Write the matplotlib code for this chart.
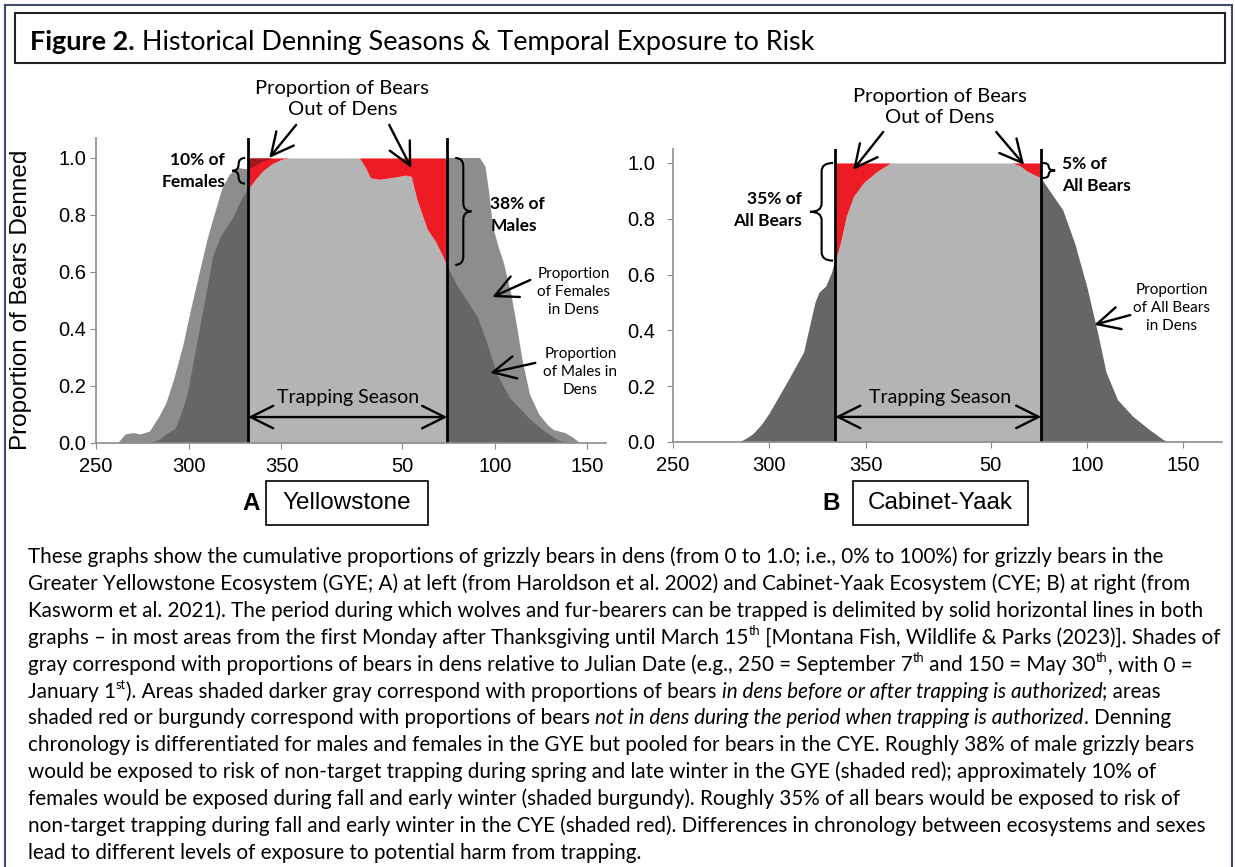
import matplotlib
matplotlib.use('Agg')
import matplotlib.pyplot as plt
import numpy as np
from matplotlib.patches import Rectangle, PathPatch
from matplotlib.path import Path
from matplotlib.font_manager import FontProperties

# ---- data (Julian day, continuous past 365; proportion denned) ----
gye_fem_day = [262, 266, 270, 274, 279, 284, 288, 292, 297, 301, 306, 310, 313, 318, 322, 326, 332,
               336, 340, 345, 439.4, 457, 460, 462, 464, 467, 470, 474, 477, 480, 484, 489, 494, 497,
               500, 503, 507, 511]
gye_fem_val = [0.0, 0.03, 0.035, 0.03, 0.04, 0.09, 0.14, 0.22, 0.34, 0.46, 0.60, 0.71, 0.78, 0.89,
               0.94, 0.965, 0.96, 0.975, 0.99, 1.0, 1.0, 1.0, 0.97, 0.88, 0.76, 0.69, 0.63, 0.52, 0.41,
               0.29, 0.17, 0.10, 0.06, 0.045, 0.04, 0.035, 0.02, 0.0]

gye_male_day = [279, 284, 288, 293, 296, 299, 302, 306, 310, 313, 317, 321, 324, 329, 332, 336, 340,
                345, 350, 354, 392, 395, 398, 403, 408, 413, 417, 420, 423, 428.6, 432.8, 437, 439.4,
                445, 450, 456, 461, 466, 473, 483, 491, 499, 504]
gye_male_val = [0.0, 0.01, 0.03, 0.05, 0.10, 0.16, 0.26, 0.40, 0.54, 0.65, 0.72, 0.76, 0.79, 0.86,
                0.89, 0.925, 0.955, 0.98, 0.995, 1.0, 1.0, 0.97, 0.93, 0.925, 0.93, 0.935, 0.94,
                0.935, 0.855, 0.75, 0.71, 0.655, 0.62, 0.55, 0.50, 0.44, 0.35, 0.245, 0.16, 0.09,
                0.045, 0.01, 0.0]

cye_day = [285, 289, 292, 296, 300, 305, 310, 314, 318, 320, 322, 324, 326, 329.5, 332.5, 334.2,
           336.8, 340, 343.7, 349, 356, 363, 426, 430, 434, 441.2, 446.6, 452.6, 458.8, 465, 471,
           475, 481, 489, 497.5, 504.7, 507]
cye_val = [0.0, 0.015, 0.03, 0.06, 0.10, 0.16, 0.22, 0.27, 0.32, 0.38, 0.44, 0.50, 0.535, 0.557,
           0.605, 0.65, 0.71, 0.81, 0.88, 0.93, 0.97, 1.0, 1.0, 0.99, 0.97, 0.945, 0.89, 0.83, 0.71,
           0.557, 0.38, 0.25, 0.15, 0.09, 0.043, 0.007, 0.0]

gye_season = (332, 439.4)
cye_season = (334.2, 441.2)

xtick_pos = [250, 300, 350, 415, 465, 515]
xtick_lab = ['250', '300', '350', '50', '100', '150']
ytick_pos = [0.0, 0.2, 0.4, 0.6, 0.8, 1.0]

caption = [
    [("These graphs show the cumulative proportions of grizzly bears in dens (from 0 to 1.0; i.e., 0% to 100%) for grizzly bears in the", 'n')],
    [("Greater Yellowstone Ecosystem (GYE; A) at left (from Haroldson et al. 2002) and Cabinet-Yaak Ecosystem (CYE; B) at right (from", 'n')],
    [("Kasworm et al. 2021). The period during which wolves and fur-bearers can be trapped is delimited by solid horizontal lines in both", 'n')],
    [("graphs \u2013 in most areas from the first Monday after Thanksgiving until March 15", 'n'), ("th", 's'),
     (" [Montana Fish, Wildlife & Parks (2023)]. Shades of", 'n')],
    [("gray correspond with proportions of bears in dens relative to Julian Date (e.g., 250 = September 7", 'n'), ("th", 's'),
     (" and 150 = May 30", 'n'), ("th", 's'), (", with 0 =", 'n')],
    [("January 1", 'n'), ("st", 's'), ("). Areas shaded darker gray correspond with proportions of bears ", 'n'),
     ("in dens before or after trapping is authorized", 'i'), ("; areas", 'n')],
    [("shaded red or burgundy correspond with proportions of bears ", 'n'),
     ("not in dens during the period when trapping is authorized", 'i'), (". Denning", 'n')],
    [("chronology is differentiated for males and females in the GYE but pooled for bears in the CYE. Roughly 38% of male grizzly bears", 'n')],
    [("would be exposed to risk of non-target trapping during spring and late winter in the GYE (shaded red); approximately 10% of", 'n')],
    [("females would be exposed during fall and early winter (shaded burgundy). Roughly 35% of all bears would be exposed to risk of", 'n')],
    [("non-target trapping during fall and early winter in the CYE (shaded red). Differences in chronology between ecosystems and sexes", 'n')],
    [("lead to different levels of exposure to potential harm from trapping.", 'n')],
]

DARK = '#666666'
MID = '#8d8d8d'
LIGHT = '#b4b4b4'
RED = '#ed1c24'
BURG = '#9c1a1c'
TXT = 'Lato'

W, H = 1235, 867
fig = plt.figure(figsize=(W / 100, H / 100), dpi=100)
renderer = fig.canvas.get_renderer()


def fx(x):
    return x / W


def fy(y):
    return 1 - y / H


def text_w(s, fp):
    w1 = renderer.get_text_width_height_descent(s + '|', fp, ismath=False)[0]
    w2 = renderer.get_text_width_height_descent('|', fp, ismath=False)[0]
    return w1 - w2


def brace(ax, x_end, x_tip, y0, y1):
    ym = (y0 + y1) / 2
    xs = (x_end + x_tip) / 2
    r = min(0.03, (y1 - y0) / 4)
    verts = [(x_end, y1), (xs, y1), (xs, y1 - r), (xs, ym + r), (xs, ym), (x_tip, ym),
             (xs, ym), (xs, ym - r), (xs, y0 + r), (xs, y0), (x_end, y0)]
    codes = [Path.MOVETO, Path.CURVE3, Path.CURVE3, Path.LINETO, Path.CURVE3, Path.CURVE3,
             Path.CURVE3, Path.CURVE3, Path.LINETO, Path.CURVE3, Path.CURVE3]
    ax.add_patch(PathPatch(Path(verts, codes), fill=False, lw=1.5, color='black', clip_on=False))


def arrow(ax, xy, xytext, style='->'):
    ax.annotate('', xy=xy, xytext=xytext, annotation_clip=False,
                arrowprops=dict(arrowstyle=style + ', head_length=0.6, head_width=0.3',
                                lw=1.7, color='black', shrinkA=0, shrinkB=0, mutation_scale=27))


def style_axes(ax, xmax, ymax, ypad):
    ax.set_xlim(250, xmax)
    ax.set_ylim(0, ymax)
    ax.set_xticks(xtick_pos)
    ax.set_xticklabels(xtick_lab)
    ax.set_yticks(ytick_pos)
    ax.set_yticklabels(['%.1f' % v for v in ytick_pos])
    for s in ['top', 'right']:
        ax.spines[s].set_visible(False)
    for s in ['left', 'bottom']:
        ax.spines[s].set_color('#8c8c8c')
        ax.spines[s].set_linewidth(1.2)
    ax.tick_params(axis='x', length=4, color='#8c8c8c', pad=6)
    ax.tick_params(axis='y', length=4, color='#8c8c8c', pad=ypad)
    for lab in ax.get_xticklabels() + ax.get_yticklabels():
        lab.set_fontfamily('Liberation Sans')
        lab.set_fontsize(14.5)
    ax.set_facecolor('none')


# ---- Panel A: Yellowstone ----
ax1 = fig.add_axes([fx(96), fy(443), 510 / W, 305 / H])
fd, fv = np.array(gye_fem_day), np.array(gye_fem_val)
md, mv = np.array(gye_male_day), np.array(gye_male_val)
s0, s1 = gye_season
ax1.fill_between(fd, 0, fv, where=(fd <= s0) | (fd >= s1), color=MID, lw=0)
ax1.fill_between(md, 0, mv, where=(md <= s0) | (md >= s1), color=DARK, lw=0)
ax1.fill_between(md, 0, mv, where=(md >= s0) & (md <= s1), color=LIGHT, lw=0)
ax1.fill_between(md, mv, 1, where=(md >= s0) & (md <= s1), color=RED, lw=0)
ax1.fill_between(fd, fv, 1, where=(fd >= s0) & (fd <= s1), color=BURG, lw=0)
ax1.axvline(s0, color='black', lw=2)
ax1.axvline(s1, color='black', lw=2)
style_axes(ax1, 525, 1.07, 3)
ax1.set_ylabel('Proportion of Bears Denned', fontfamily='Liberation Sans', fontsize=17.5)
ax1.yaxis.set_label_coords(-0.125, 0.47)

ax1.text(382.8, 1.207, 'Proportion of Bears\nOut of Dens', ha='center', va='center',
         fontfamily=TXT, fontsize=14.5, linespacing=1.3)
arrow(ax1, (343.4, 1.0), (357.9, 1.116))
arrow(ax1, (420, 0.965), (408.1, 1.116))
ax1.text(319.6, 0.953, '10% of\nFemales', ha='right', va='center', fontfamily=TXT,
         fontweight='bold', fontsize=12.5, linespacing=1.45)
brace(ax1, 330.4, 323.4, 0.91, 1.0)
ax1.text(462.6, 0.80, '38% of\nMales', ha='left', va='center', fontfamily=TXT,
         fontweight='bold', fontsize=12.5, linespacing=1.45)
brace(ax1, 443.7, 452.4, 0.625, 1.0)
ax1.text(507.4, 0.53, 'Proportion\nof Females\nin Dens', ha='center', va='center',
         fontfamily=TXT, fontsize=11, linespacing=1.4)
arrow(ax1, (463.7, 0.512), (484.2, 0.572))
ax1.text(511.2, 0.249, 'Proportion\nof Males in\nDens', ha='center', va='center',
         fontfamily=TXT, fontsize=11, linespacing=1.4)
arrow(ax1, (462.6, 0.246), (486.9, 0.281))
ax1.text(386, 0.158, 'Trapping Season', ha='center', va='center', fontfamily=TXT, fontsize=14)
arrow(ax1, (s0, 0.091), (s1, 0.091), style='<->')

# ---- Panel B: Cabinet-Yaak ----
ax2 = fig.add_axes([fx(673), fy(442), 549 / W, 293 / H])
cd, cv = np.array(cye_day), np.array(cye_val)
c0, c1 = cye_season
ax2.fill_between(cd, 0, cv, where=(cd <= c0) | (cd >= c1), color=DARK, lw=0)
ax2.fill_between(cd, 0, cv, where=(cd >= c0) & (cd <= c1), color=LIGHT, lw=0)
ax2.fill_between(cd, cv, 1, where=(cd >= c0) & (cd <= c1), color=RED, lw=0)
ax2.axvline(c0, color='black', lw=2)
ax2.axvline(c1, color='black', lw=2)
style_axes(ax2, 535, 1.05, 9)

ax2.text(388.7, 1.2, 'Proportion of Bears\nOut of Dens', ha='center', va='center',
         fontfamily=TXT, fontsize=14.5, linespacing=1.3)
arrow(ax2, (343.5, 0.975), (359.1, 1.111))
arrow(ax2, (432.3, 0.993), (417.8, 1.111))
ax2.text(317, 0.83, '35% of\nAll Bears', ha='right', va='center', fontfamily=TXT,
         fontweight='bold', fontsize=12.5, linespacing=1.45)
brace(ax2, 333.1, 321.2, 0.65, 1.0)
ax2.text(452, 0.957, '5% of\nAll Bears', ha='left', va='center', fontfamily=TXT,
         fontweight='bold', fontsize=12.5, linespacing=1.45)
brace(ax2, 441.7, 448.4, 0.946, 1.0)
ax2.text(508.7, 0.48, 'Proportion\nof All Bears\nin Dens', ha='center', va='center',
         fontfamily=TXT, fontsize=11, linespacing=1.4)
arrow(ax2, (468.7, 0.42), (487.4, 0.455))
ax2.text(388.7, 0.158, 'Trapping Season', ha='center', va='center', fontfamily=TXT, fontsize=14)
arrow(ax2, (c0, 0.09), (c1, 0.09), style='<->')

# ---- frames and title ----
fig.patches.append(Rectangle((fx(5), -0.01), (1227) / W, fy(5) + 0.01, transform=fig.transFigure,
                             fill=False, ec='#3b4d6b', lw=1.5))
fig.patches.append(Rectangle((fx(15), fy(63)), 1210 / W, 50 / H, transform=fig.transFigure,
                             fill=False, ec='#222222', lw=1.5))

fp_tb = FontProperties(family=TXT, weight='bold', size=18)
fp_tn = FontProperties(family=TXT, size=18)
t_bold = 'Figure 2.'
t_rest = ' Historical Denning Seasons & Temporal Exposure to Risk'
scale = 784 / (text_w(t_bold, fp_tb) + text_w(t_rest, fp_tn))
tsize = 18 * scale
fp_tb.set_size(tsize)
fp_tn.set_size(tsize)
fig.text(fx(30), fy(50), t_bold, fontproperties=fp_tb, va='baseline')
fig.text(fx(30) + text_w(t_bold, fp_tb) / W, fy(50), t_rest, fontproperties=fp_tn, va='baseline')

# panel labels
for letter, lx, bx0, bx1, name in [('A', 251, 266, 428, 'Yellowstone'),
                                   ('B', 831, 853, 1028, 'Cabinet-Yaak')]:
    fig.text(fx(lx), fy(503), letter, ha='center', va='center', fontfamily='Liberation Sans',
             fontweight='bold', fontsize=17.5)
    fig.patches.append(Rectangle((fx(bx0), fy(525)), (bx1 - bx0) / W, 44 / H,
                                 transform=fig.transFigure, fill=False, ec='black', lw=1.2))
    fig.text(fx((bx0 + bx1) / 2), fy(503), name, ha='center', va='center',
             fontfamily='Liberation Sans', fontsize=17.5)

# ---- caption ----
cap_size = 13.0
fp_n = FontProperties(family=TXT, size=cap_size)
cap_size = cap_size * 1168 / text_w(caption[2][0][0], fp_n)
for i, line in enumerate(caption):
    x = 28
    base = 563 + 26.9 * i
    for seg, kind in line:
        if kind == 's':
            fp = FontProperties(family=TXT, size=cap_size * 0.62)
            y = base - cap_size * 0.42 * 100 / 72
        elif kind == 'i':
            fp = FontProperties(family=TXT, style='italic', size=cap_size)
            y = base
        else:
            fp = FontProperties(family=TXT, size=cap_size)
            y = base
        fig.text(fx(x), fy(y), seg, fontproperties=fp, va='baseline', ha='left')
        x += text_w(seg, fp)

fig.savefig('out.png', dpi=100)
